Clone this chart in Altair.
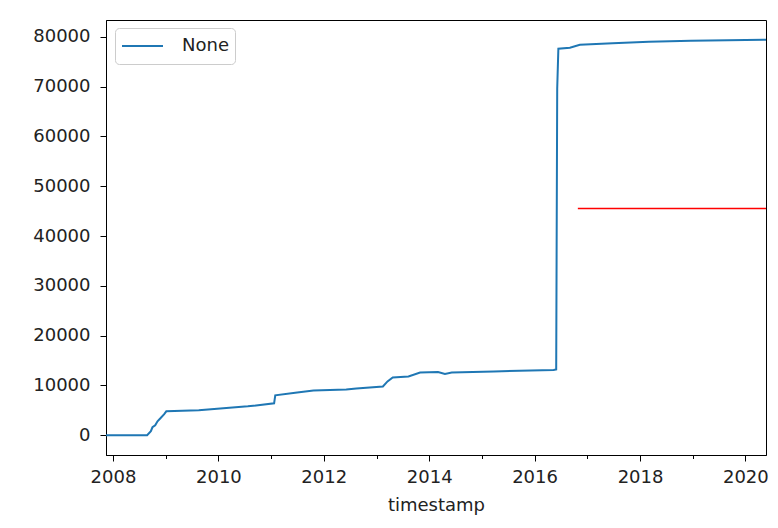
import altair as alt
import pandas as pd

# ---- data ----
dates = [
    "2007-11-14", "2008-08-25", "2008-09-20", "2008-10-01", "2008-10-20",
    "2008-11-05", "2008-11-25", "2008-12-20", "2009-01-05", "2009-08-18",
    "2010-07-24", "2011-01-22", "2011-01-30", "2011-07-01", "2011-10-22",
    "2012-06-05", "2012-08-14", "2013-02-14", "2013-03-18", "2013-04-23",
    "2013-08-10", "2013-10-30", "2014-03-03", "2014-04-20", "2014-06-06",
    "2015-03-25", "2016-05-12", "2016-05-30", "2016-06-06", "2016-06-14",
    "2016-09-02", "2016-11-10", "2017-06-25", "2018-03-03", "2018-12-20",
    "2020-05-23",
]
values = [
    0, 0, 800, 1600, 2000,
    2800, 3400, 4200, 4800, 5000,
    5800, 6400, 8000, 8600, 9000,
    9200, 9400, 9800, 10800, 11600,
    11800, 12600, 12700, 12300, 12600,
    12800, 13100, 13200, 69600, 77600,
    77800, 78400, 78700, 79000, 79200,
    79400,
]
series_label = "None"

annot_dates = ["2016-10-27", "2020-05-23"]
annot_values = [45500, 45500]

year_ticks = list(range(2008, 2021))
y_ticks = list(range(0, 80001, 10000))
x_start = (2007, 11, 14)
x_end = (2020, 5, 23)
y_domain = [-3970, 83370]

df = pd.DataFrame({"timestamp": dates, "value": values, "series": [series_label] * len(dates)})
ann = pd.DataFrame({"timestamp": annot_dates, "value": annot_values})

x_scale = alt.Scale(
    type="utc",
    domain=[
        alt.DateTime(year=x_start[0], month=x_start[1], date=x_start[2], utc=True),
        alt.DateTime(year=x_end[0], month=x_end[1], date=x_end[2], utc=True),
    ],
    nice=False,
)
y_scale = alt.Scale(domain=y_domain, nice=False, zero=False)

x_axis = alt.Axis(
    values=[alt.DateTime(year=y, month=1, date=1, utc=True) for y in year_ticks],
    labelExpr="utcyear(datum.value) % 2 == 0 ? utcFormat(datum.value, '%Y') : ''",
    tickSize={"condition": {"test": "utcyear(datum.value) % 2 == 0", "value": 6}, "value": 3.5},
    grid=False,
    title="timestamp",
    labelPadding=7,
    titlePadding=10,
    labelFlush=False,
    labelOverlap=False,
)
y_axis = alt.Axis(
    values=y_ticks,
    format="d",
    grid=False,
    title=None,
    tickSize=6,
    labelPadding=10,
)

line = alt.Chart(df).mark_line(strokeWidth=2).encode(
    x=alt.X("timestamp:T", scale=x_scale, axis=x_axis),
    y=alt.Y("value:Q", scale=y_scale, axis=y_axis),
    color=alt.Color(
        "series:N",
        scale=alt.Scale(range=["#1f77b4"]),
        legend=alt.Legend(
            title=None,
            orient="none",
            legendX=9,
            legendY=8,
            symbolType="stroke",
            symbolSize=1681,
            symbolStrokeWidth=2,
            clipHeight=24,
            labelFontSize=18,
            labelFont="DejaVu Sans",
            labelColor="#222222",
            labelOffset=18,
            fillColor="rgba(255,255,255,0.8)",
            strokeColor="#cccccc",
            cornerRadius=4,
            padding=6,
        ),
    ),
)

red = alt.Chart(ann).mark_line(color="#ff0000", strokeWidth=1.5).encode(
    x=alt.X("timestamp:T"),
    y=alt.Y("value:Q"),
)

chart = (
    alt.layer(line, red)
    .properties(
        width=660,
        height=435,
        autosize=alt.AutoSizeParams(type="none"),
        padding={"left": 98, "top": 12, "right": 4, "bottom": 70},
        background="white",
    )
    .configure_axis(
        domainColor="black",
        tickColor="black",
        labelColor="#222222",
        titleColor="#222222",
        labelFont="DejaVu Sans",
        titleFont="DejaVu Sans",
        labelFontSize=18,
        titleFontSize=18,
        titleFontWeight="normal",
    )
    .configure_view(stroke="black", strokeWidth=1)
)

chart.save("out.html", embed_options={"renderer": "svg", "actions": False})
